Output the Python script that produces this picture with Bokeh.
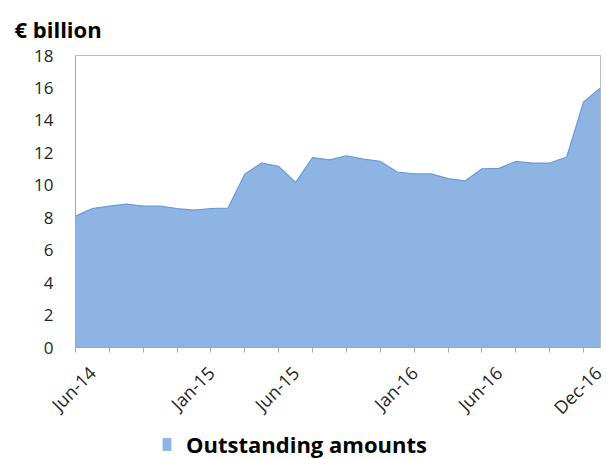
from bokeh.plotting import figure
from bokeh.models import FixedTicker, Legend, LegendItem, Range1d
from bokeh.layouts import column
from bokeh.embed import file_html
from bokeh.resources import INLINE
import numpy as np

# Monthly outstanding amounts, May-14 .. Dec-16 (EUR billion)
months = ["May-14", "Jun-14", "Jul-14", "Aug-14", "Sep-14", "Oct-14", "Nov-14", "Dec-14",
          "Jan-15", "Feb-15", "Mar-15", "Apr-15", "May-15", "Jun-15", "Jul-15", "Aug-15",
          "Sep-15", "Oct-15", "Nov-15", "Dec-15", "Jan-16", "Feb-16", "Mar-16", "Apr-16",
          "May-16", "Jun-16", "Jul-16", "Aug-16", "Sep-16", "Oct-16", "Nov-16", "Dec-16"]
outstanding = [8.10, 8.57, 8.71, 8.84, 8.71, 8.71, 8.57, 8.47,
               8.57, 8.59, 10.70, 11.37, 11.16, 10.18, 11.71, 11.57,
               11.82, 11.61, 11.47, 10.82, 10.70, 10.70, 10.41, 10.27,
               11.02, 11.04, 11.47, 11.37, 11.37, 11.74, 15.14, 16.00]
shown_labels = ["Jun-14", "Jan-15", "Jun-15", "Jan-16", "Jun-16", "Dec-16"]
y_ticks = list(range(0, 19, 2))
series_name = "Outstanding amounts"
unit_title = "€ billion"

idx = np.arange(len(months))
label_pos = [months.index(m) for m in shown_labels]

FONT = "Open Sans"
FILL = "#8DB4E2"
EDGE = "#6A9AD8"
AXIS = "#A6A6A6"
TXT = "#262626"

# main chart
p = figure(width=606, height=430, output_backend="svg", toolbar_location=None,
           x_range=Range1d(0, len(months) - 1), y_range=Range1d(0, 18),
           min_border_left=75, min_border_right=6, min_border_top=55, min_border_bottom=81)

p.title.text = unit_title
p.title.text_font = FONT
p.title.text_font_size = "22px"
p.title.text_font_style = "bold"
p.title.text_color = "#000000"
p.title.align = "left"
p.title.vertical_align = "top"
p.title.offset = -61
p.title.standoff = 20

area = p.varea(x=idx, y1=0, y2=outstanding, fill_color=FILL)
p.line(x=idx, y=outstanding, line_color=EDGE, line_width=1.2)

p.grid.visible = False
p.outline_line_color = "#BFBFBF"
p.outline_line_width = 1
p.background_fill_color = "white"
p.border_fill_color = "white"

xa = p.xaxis[0]
xa.ticker = FixedTicker(ticks=label_pos, minor_ticks=list(range(0, len(months) - 1, 2)))
xa.major_label_overrides = {i: m for i, m in zip(label_pos, shown_labels)}
xa.major_label_orientation = np.pi / 4
xa.major_tick_line_color = None
xa.major_tick_out = 0
xa.major_tick_in = 0
xa.minor_tick_line_color = AXIS
xa.minor_tick_out = 5
xa.minor_tick_in = 0
xa.axis_line_color = AXIS
xa.major_label_standoff = 17
xa.major_label_text_font = FONT
xa.major_label_text_font_size = "18px"
xa.major_label_text_color = TXT

ya = p.yaxis[0]
ya.ticker = FixedTicker(ticks=y_ticks)
ya.major_tick_line_color = None
ya.minor_tick_line_color = None
ya.major_tick_out = 0
ya.axis_line_color = AXIS
ya.major_label_standoff = 22
ya.major_label_text_font = FONT
ya.major_label_text_font_size = "17px"
ya.major_label_text_color = TXT

# legend strip below the chart (frames are aligned with the main chart)
p2 = figure(width=606, height=29, output_backend="svg", toolbar_location=None,
            x_axis_location=None, y_axis_location=None,
            x_range=Range1d(0, len(months) - 1), y_range=Range1d(-3, -2),
            min_border_left=0, min_border_right=0, min_border_top=0, min_border_bottom=0)
p2.grid.visible = False
p2.outline_line_color = None
p2.background_fill_color = "white"
p2.border_fill_color = "white"
swatch = p2.varea(x=idx, y1=0, y2=outstanding, fill_color=FILL)
legend = Legend(items=[LegendItem(label=series_name, renderers=[swatch])],
                orientation="horizontal", location=(86, 0),
                label_text_font=FONT, label_text_font_size="22px",
                label_text_font_style="bold", label_text_color="#000000",
                glyph_width=11, glyph_height=16, border_line_color=None,
                background_fill_alpha=0,
                padding=0, margin=0, spacing=0, label_standoff=14)
p2.add_layout(legend)

open("out.html", "w").write(file_html(column(p, p2, spacing=0), INLINE))
